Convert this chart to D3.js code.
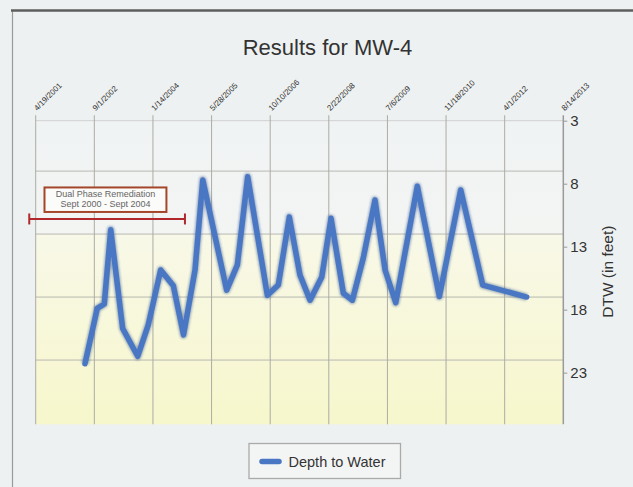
<!DOCTYPE html>
<html>
<head>
<meta charset="utf-8">
<script src="https://cdn.jsdelivr.net/npm/d3@7"></script>
<style>
  html, body { margin: 0; padding: 0; background: #eef1f1; }
  svg { display: block; font-family: "Liberation Sans", Arial, Helvetica, sans-serif; }
</style>
</head>
<body>
<svg id="chart" width="633" height="487"></svg>
<script>
// ---- data ----
const chartTitle = "Results for MW-4";
const seriesName = "Depth to Water";
const yAxisLabel = "DTW (in feet)";
const xTickLabels = ["4/19/2001","9/1/2002","1/14/2004","5/28/2005","10/10/2006","2/22/2008","7/6/2009","11/18/2010","4/1/2012","8/14/2013"];
const yTickValues = [3, 8, 13, 18, 23];
const yGridValues = [7, 12, 17, 22];
const yDomain = [3, 27.1];
const sampleDates = ["6/13/2002","9/26/2002","11/25/2002","1/19/2003","5/1/2003","9/6/2003","12/5/2003","3/20/2004","7/6/2004","10/1/2004","1/7/2005","3/14/2005","10/4/2005","1/3/2006","4/1/2006","9/16/2006","12/18/2006","3/22/2007","6/21/2007","9/15/2007","12/24/2007","3/12/2008","6/25/2008","9/10/2008","12/12/2008","3/22/2009","6/16/2009","9/15/2009","3/18/2010","9/22/2010","3/23/2011","9/27/2011","10/6/2012"];
const depthToWater = [22.3,17.9,17.55,11.65,19.5,21.7,19.2,14.85,16.1,20.0,14.85,7.7,16.45,14.45,7.45,16.85,16.05,10.65,15.25,17.25,15.4,10.75,16.7,17.25,13.9,9.3,14.85,17.45,8.2,16.95,8.5,16.05,17.0];
const annotationLines = ["Dual Phase Remediation", "Sept 2000 - Sept 2004"];
const annotationSpan = ["2/23/2001", "10/13/2004"];
const annotationBoxSpan = ["7/3/2001", "5/8/2004"];
const annotationBarValue = 10.8;

// ---- layout ----
const parse = d3.utcParse("%m/%d/%Y");
const plot = { left: 35.7, right: 563.3, top: 120.7, bottom: 424.3 };

const svg = d3.select("#chart");
const x = d3.scaleUtc()
  .domain([parse(xTickLabels[0]), parse(xTickLabels[xTickLabels.length - 1])])
  .range([plot.left, plot.right]);
const y = d3.scaleLinear().domain(yDomain).range([plot.top, plot.bottom]);

const defs = svg.append("defs");
const grad = defs.append("linearGradient").attr("id", "bg").attr("x1", 0).attr("y1", 0).attr("x2", 0).attr("y2", 1);
const cut = (y(12) - plot.top) / (plot.bottom - plot.top);
grad.append("stop").attr("offset", 0).attr("stop-color", "#f0f3f4");
grad.append("stop").attr("offset", cut).attr("stop-color", "#f3f5f3");
grad.append("stop").attr("offset", cut).attr("stop-color", "#f8f8e8");
grad.append("stop").attr("offset", 1).attr("stop-color", "#f7f7cc");
const blur = defs.append("filter").attr("id", "shadow").attr("x", "-5%").attr("y", "-5%").attr("width", "110%").attr("height", "110%");
blur.append("feGaussianBlur").attr("stdDeviation", 1.2);

// frame
svg.append("line").attr("x1", 12.5).attr("x2", 12.5).attr("y1", 10).attr("y2", 487)
  .attr("stroke", "#9a9a9a").attr("stroke-width", 1.2);
svg.append("line").attr("x1", 11).attr("x2", 633).attr("y1", 10.5).attr("y2", 10.5)
  .attr("stroke", "#5e5e5e").attr("stroke-width", 2.5);

// title
svg.append("text").attr("x", 327.5).attr("y", 54.5).attr("text-anchor", "middle")
  .attr("font-size", 22).attr("fill", "#333").text(chartTitle);

// plot background
svg.append("rect").attr("x", plot.left).attr("y", plot.top)
  .attr("width", plot.right - plot.left).attr("height", plot.bottom - plot.top)
  .attr("fill", "url(#bg)");

// horizontal grid
svg.append("g").selectAll("line").data(yGridValues).join("line")
  .attr("x1", plot.left).attr("x2", plot.right)
  .attr("y1", d => y(d)).attr("y2", d => y(d))
  .attr("stroke", "#b9b9b2").attr("stroke-width", 1);
svg.append("line").attr("x1", plot.left).attr("x2", plot.right)
  .attr("y1", y(yDomain[0])).attr("y2", y(yDomain[0]))
  .attr("stroke", "#cfcfcf").attr("stroke-width", 1);

// vertical grid + x labels
const xTicks = xTickLabels.map(s => parse(s));
svg.append("g").selectAll("line").data(xTicks).join("line")
  .attr("x1", d => x(d)).attr("x2", d => x(d))
  .attr("y1", plot.top - 5.5).attr("y2", plot.bottom)
  .attr("stroke", (d, i) => i === xTicks.length - 1 ? "#9a9a9a" : "#acaca4")
  .attr("stroke-width", (d, i) => i === xTicks.length - 1 ? 1.5 : 1);
svg.append("g").selectAll("text").data(xTickLabels).join("text")
  .attr("transform", d => `translate(${x(parse(d)) + 1.5},${plot.top - 9.5}) rotate(-45)`)
  .attr("font-size", 8).attr("fill", "#333").text(d => d);

// right y axis
const yAxis = d3.axisRight(y).tickValues(yTickValues).tickSize(4).tickPadding(3).tickFormat(d3.format("d"));
const ya = svg.append("g").attr("transform", `translate(${plot.right},0)`).call(yAxis);
ya.select(".domain").remove();
ya.selectAll(".tick line").attr("stroke", "#999");
ya.selectAll(".tick text").attr("font-size", 15).attr("fill", "#333")
  .attr("font-family", "'Liberation Sans', Arial, sans-serif");
svg.append("text")
  .attr("transform", `translate(613,${(y(8) + y(18)) / 2 + 25}) rotate(-90)`)
  .attr("text-anchor", "middle").attr("font-size", 15.5).attr("fill", "#333").text(yAxisLabel);

// annotation
const bx0 = x(parse(annotationSpan[0])), bx1 = x(parse(annotationSpan[1]));
const by = y(annotationBarValue);
const ann = svg.append("g").attr("stroke", "#b0282c").attr("stroke-width", 2);
ann.append("line").attr("x1", bx0).attr("x2", bx1).attr("y1", by).attr("y2", by);
ann.append("line").attr("x1", bx0).attr("x2", bx0).attr("y1", by - 5.5).attr("y2", by + 5.5);
ann.append("line").attr("x1", bx1).attr("x2", bx1).attr("y1", by - 5.5).attr("y2", by + 5.5);
const boxX0 = x(parse(annotationBoxSpan[0])), boxX1 = x(parse(annotationBoxSpan[1]));
svg.append("rect").attr("x", boxX0).attr("y", by - 31.5).attr("width", boxX1 - boxX0).attr("height", 24.5)
  .attr("fill", "#fbfbf9").attr("stroke", "#a4462a").attr("stroke-width", 2);
svg.append("g").selectAll("text").data(annotationLines).join("text")
  .attr("x", (boxX0 + boxX1) / 2).attr("y", (d, i) => by - 21.5 + i * 10)
  .attr("text-anchor", "middle").attr("font-size", 9).attr("fill", "#666").text(d => d);

// series line
const pts = sampleDates.map((d, i) => [parse(d), depthToWater[i]]);
const line = d3.line().x(d => x(d[0])).y(d => y(d[1]));
svg.append("path").datum(pts).attr("d", line).attr("fill", "none")
  .attr("stroke", "#2c4f8c").attr("stroke-opacity", 0.45).attr("stroke-width", 7.5)
  .attr("stroke-linejoin", "round").attr("filter", "url(#shadow)");
svg.append("path").datum(pts).attr("d", line).attr("fill", "none")
  .attr("stroke", "#4a77c3").attr("stroke-width", 5.5)
  .attr("stroke-linejoin", "round").attr("stroke-linecap", "round");

// legend
svg.append("rect").attr("x", 249).attr("y", 443.5).attr("width", 151.5).attr("height", 35)
  .attr("fill", "#f3f5f5").attr("stroke", "#aaa").attr("stroke-width", 1.3);
svg.append("line").attr("x1", 262).attr("x2", 279).attr("y1", 461.5).attr("y2", 461.5)
  .attr("stroke", "#4a77c3").attr("stroke-width", 5.5).attr("stroke-linecap", "round");
svg.append("text").attr("x", 288.5).attr("y", 466.5).attr("font-size", 14.5).attr("fill", "#333").text(seriesName);
</script>
</body>
</html>
